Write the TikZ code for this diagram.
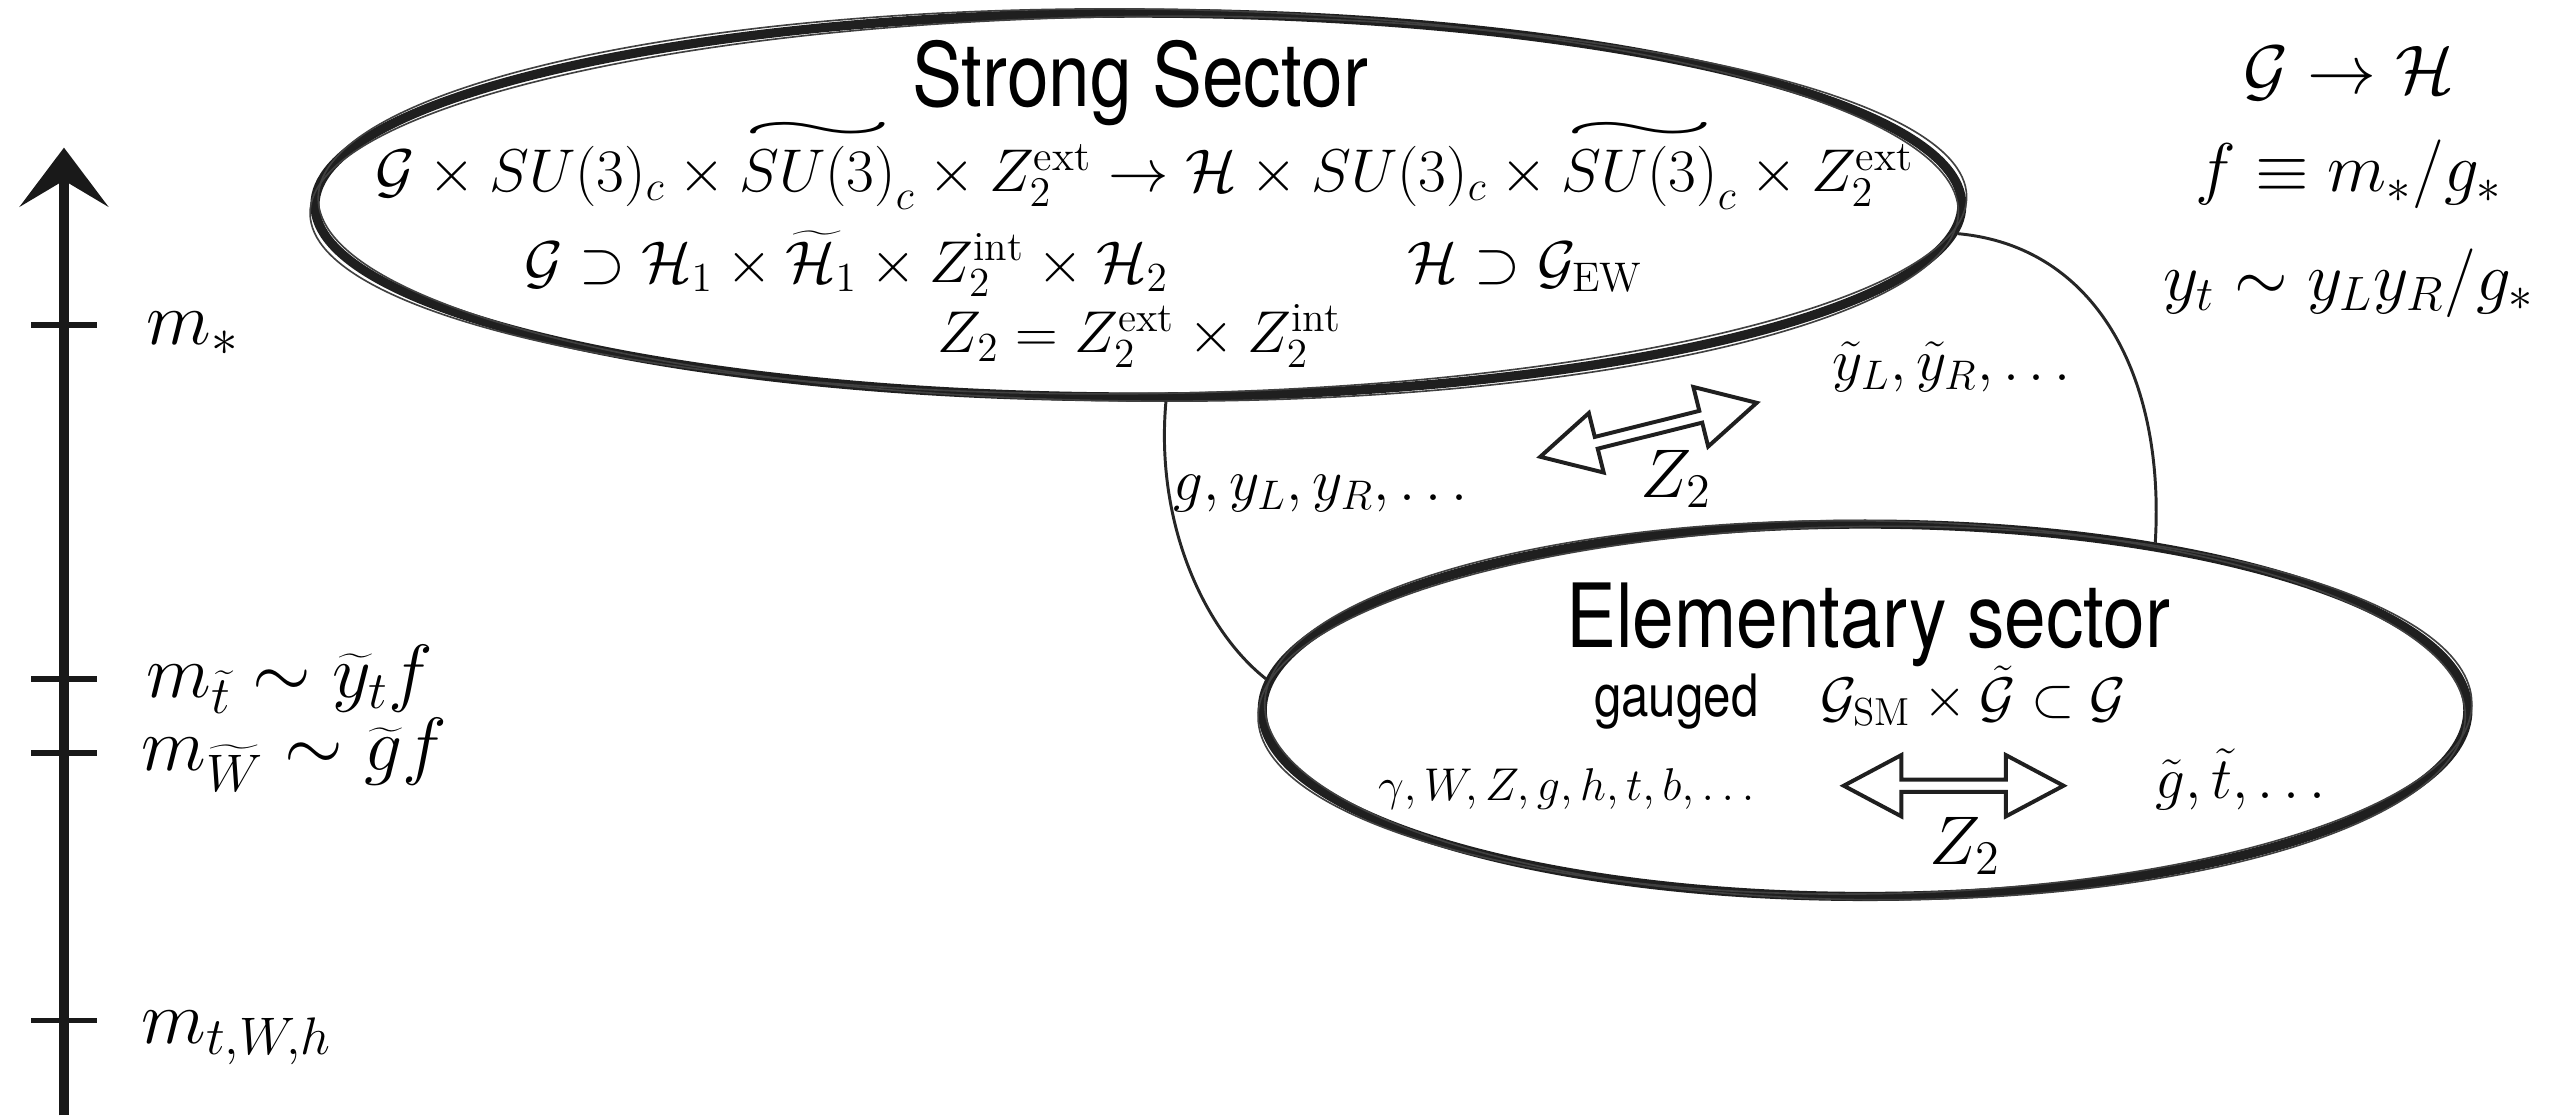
\RequirePackage{fix-cm}
\documentclass[tikz,border=0pt]{standalone}
\usepackage{fontspec}
\newfontfamily\helv{TeX Gyre Heros}
\usetikzlibrary{shapes.geometric,shapes.arrows,arrows.meta}
\newcommand\fsz[1]{\fontsize{#1}{#1}\selectfont}
\newsavebox\wtbox
\newcommand\wtl[1]{\sbox\wtbox{$#1$}{\mathop{\usebox\wtbox}\limits^{\resizebox{\wd\wtbox}{0.3em}{$\sim$}}}}
\newcommand\ttl[1]{\scalebox{0.97}[1.15]{#1}}
\tikzset{
  sector/.style={ellipse, draw=black!88, line width=2.8pt, inner sep=0pt},
  brush/.style={draw=black!75, line width=0.5pt},
  link/.style={draw=black!85, line width=0.9pt},
  smath/.style={inner sep=0pt, anchor=base, font=\fsz{18}},
  rmath/.style={inner sep=0pt, anchor=base, font=\fsz{21}},
  axlab/.style={inner sep=0pt, anchor=base west, font=\fsz{23}},
  title/.style={inner sep=0pt, anchor=base, font=\helv\fsz{23.5}},
  zarrow/.style={double arrow, draw=black!88, line width=1.2pt, fill=white,
    inner xsep=0pt, inner ysep=1.25pt, double arrow head extend=7.5pt,
    double arrow tip angle=56},
  tickmark/.style={draw=black!90, line width=1.7pt},
}
\begin{document}
\begin{tikzpicture}[x=0.5pt,y=-0.5pt]
\useasboundingbox (0,0) rectangle (1568,681);

% ---- sectors
\node[sector, minimum width=502pt, minimum height=117pt] (strong) at (694,125) {};
\node[sector, minimum width=367.5pt, minimum height=113.5pt] (elem) at (1137,433) {};
\draw[brush, rotate around={0.6:(strong.center)}] (strong.center) ellipse [x radius=505, y radius=115];
\draw[brush, rotate around={-0.5:(strong.center)}] (strong.center) ellipse [x radius=500, y radius=119.5];
\draw[brush, rotate around={0.7:(elem.center)}] (elem.center) ellipse [x radius=370, y radius=112];
\draw[brush, rotate around={-0.6:(elem.center)}] (elem.center) ellipse [x radius=366, y radius=115.5];

% ---- links between sectors
\draw[link] (strong.-82) .. controls (704,320) and (735,385) .. (elem.177);
\draw[link] (strong.-2) .. controls (1278,150) and (1320,230) .. (elem.30);

% ---- strong sector text
\node[title] (sttl) at (695,65) {\ttl{Strong Sector}};
\node[smath, font=\fsz{18.4}] (sl1) at (698,117) {$\mathcal{G}\times SU(3)_c\times\wtl{SU(3)}_c\times Z_2^{\mathrm{ext}}\to\mathcal{H}\times SU(3)_c\times\wtl{SU(3)}_c\times Z_2^{\mathrm{ext}}$};
\node[smath] (sl2a) at (516,172) {$\mathcal{G}\supset\mathcal{H}_1\times\widetilde{\mathcal{H}}_1\times Z_2^{\mathrm{int}}\times\mathcal{H}_2$};
\node[smath] (sl2b) at (930,172) {$\mathcal{H}\supset\mathcal{G}_{\mathrm{EW}}$};
\node[smath] (sl3) at (695,215) {$Z_2=Z_2^{\mathrm{ext}}\times Z_2^{\mathrm{int}}$};

% ---- between sectors
\node[smath] (ytil) at (1190,232) {$\tilde y_L,\tilde y_R,\dots$};
\node[smath] (gyy) at (805,305) {$g,y_L,y_R,\dots$};
\node[zarrow, rotate=14, minimum height=68pt] (zup) at (1005,262) {};
\node[rmath] (zupl) at (1022,303) {$Z_2$};

% ---- elementary sector text
\node[title] (ettl) at (1139,395) {\ttl{Elementary sector}};
\node[inner sep=0pt, anchor=base, font=\helv\fsz{15.5}] (gaug) at (1022,437) {\ttl{gauged}};
\node[inner sep=0pt, anchor=base, font=\fsz{17}] (gsm) at (1203,437) {$\mathcal{G}_{\mathrm{SM}}\times\tilde{\mathcal{G}}\subset\mathcal{G}$};
\node[inner sep=0pt, anchor=base, font=\fsz{14}] (smf) at (955,488) {$\gamma,W,Z,g,h,t,b,\dots$};
\node[inner sep=0pt, anchor=base, font=\fsz{18}] (spf) at (1366,487) {$\tilde g,\tilde t,\dots$};
\node[zarrow, minimum height=67pt] (zlow) at (1191,479) {};
\node[rmath] (zlowl) at (1198,527) {$Z_2$};

% ---- right-hand relations
\node[rmath] (r1) at (1432,57) {$\mathcal{G}\to\mathcal{H}$};
\node[rmath] (r2) at (1432,117) {$f\equiv m_*/g_*$};
\node[rmath] (r3) at (1432,183) {$y_t\sim y_L y_R/g_*$};

% ---- mass axis
\coordinate (axbot) at (39,680);
\coordinate (axtop) at (39,90);
\draw[draw=black!90, line width=3pt, -{Stealth[length=18pt,width=27pt,inset=8pt]}] (axbot) -- (axtop);
\foreach \yy/\nm in {198/ms, 414/mt, 459/mw, 622/mtwh}{
  \coordinate (tick\nm) at (39,\yy);
  \draw[tickmark] ([xshift=-10pt]tick\nm) -- ([xshift=10pt]tick\nm);
}
\node[axlab] (lms) at (89,210) {$m_*$};
\node[axlab] (lmt) at (89,425) {$m_{\widetilde t}\sim\widetilde y_t f$};
\node[axlab] (lmw) at (86,470) {$m_{\widetilde W}\sim\widetilde g f$};
\node[axlab] (lmtwh) at (86,636) {$m_{t,W,h}$};
\end{tikzpicture}
\end{document}
